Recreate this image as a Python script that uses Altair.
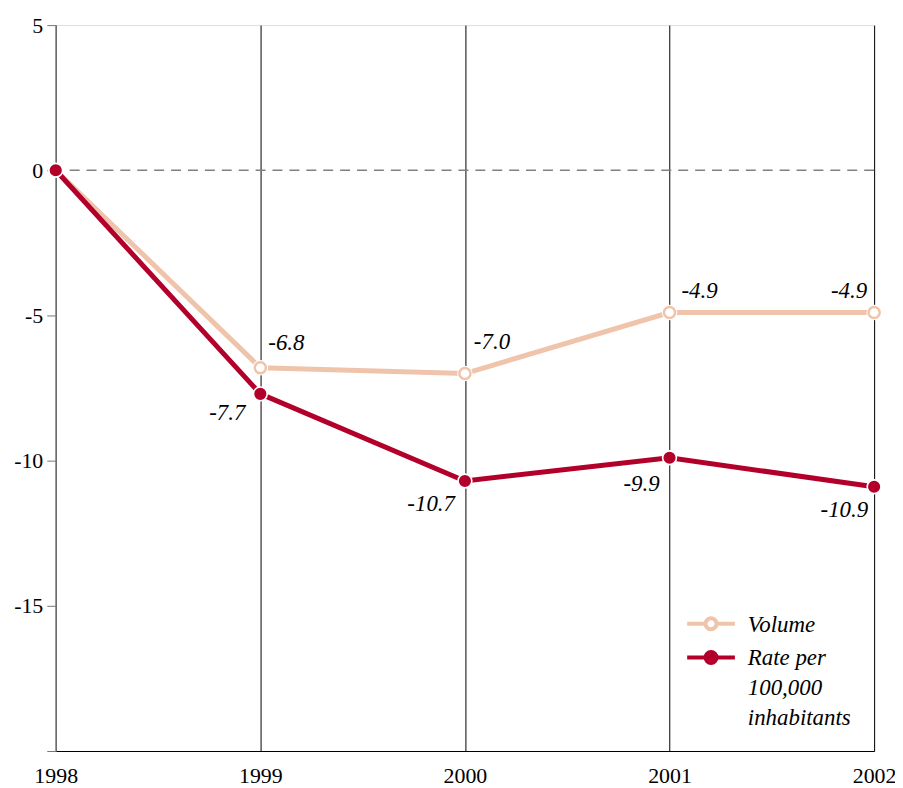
import altair as alt
import pandas as pd

years = [1998, 1999, 2000, 2001, 2002]
volume = [0.0, -6.8, -7.0, -4.9, -4.9]
rate = [0.0, -7.7, -10.7, -9.9, -10.9]
series_names = ["Volume", "Rate per 100,000 inhabitants"]
rate_label_lines = ["Rate per", "100,000", "inhabitants"]
y_ticks = [5, 0, -5, -10, -15, -20]
zero_line = [0]

PEACH = "#efc4ab"
RED = "#b3002b"
FONT = "Liberation Serif"
LABEL_DY = 8  # shifts guide labels so a baseline-anchored label is centred

# per-label text placement (style only): (align, dx, dy)
VOL_LABEL_STYLE = {1999: ("left", 8, -25), 2000: ("left", 9, -32),
                   2001: ("left", 12, -22), 2002: ("right", -7, -22)}
RATE_LABEL_STYLE = {1999: ("right", -15, 19), 2000: ("right", -10, 23),
                    2001: ("right", -10, 26), 2002: ("right", -6, 23)}
POINT_SIZE = {series_names[0]: 125, series_names[1]: 95}

df = pd.DataFrame({
    "year": years * 2,
    "value": volume + rate,
    "series": [series_names[0]] * len(years) + [series_names[1]] * len(years),
})
df["label"] = df["value"].map(lambda v: f"{v:.1f}")

x_enc = alt.X(
    "year:Q",
    scale=alt.Scale(domain=[years[0], years[-1]], nice=False, zero=False),
    axis=alt.Axis(
        values=years, format="d", title=None, grid=True, gridColor="black",
        gridWidth=1, gridOpacity=1, ticks=False, domainColor="black", domainWidth=1.2,
        labelFont=FONT, labelFontSize=22, labelColor="black",
        labelPadding=15 - LABEL_DY, labelFlush=False,
    ),
)
y_enc = alt.Y(
    "value:Q",
    scale=alt.Scale(domain=[-20, 5], nice=False, zero=False),
    axis=alt.Axis(
        values=y_ticks, title=None, grid=False,
        labelExpr="datum.value == -20 ? '' : toString(datum.value)",
        domainColor="#777777", domainWidth=1.2, tickColor="#777777", tickSize=9,
        labelFont=FONT, labelFontSize=22, labelColor="black", labelPadding=4,
        labelOffset=-LABEL_DY,
    ),
)

# legend symbol: a line with a circle in the middle (extends beyond the unit box)
sym_path = ("M-2,0L-0.58,0M0.58,0L2,0"
            "M0.46,0A0.46,0.46,0,1,1,-0.46,0A0.46,0.46,0,1,1,0.46,0Z")
label_expr = ("datum.label == '" + series_names[1] + "' ? ['" +
              "','".join(rate_label_lines) + "'] : datum.label")
leg = alt.Legend(
    title=None, orient="none", legendX=645, legendY=588,
    symbolType=sym_path, symbolSize=576, symbolStrokeWidth=4,
    labelFont=FONT, labelFontStyle="italic", labelFontSize=23, labelColor="black",
    labelOffset=23, labelLimit=400, rowPadding=6, labelExpr=label_expr,
    labelBaseline="alphabetic", symbolOffset=0, padding=0,
)

stroke_enc = alt.Stroke(
    "series:N", scale=alt.Scale(domain=series_names, range=[PEACH, RED]), legend=leg
)
fill_enc = alt.Fill(
    "series:N", scale=alt.Scale(domain=series_names, range=["white", RED]), legend=leg
)

base = alt.Chart(df).encode(x=x_enc, y=y_enc)

zero = alt.Chart(pd.DataFrame({"z": zero_line})).mark_rule(
    color="#808080", strokeDash=[10, 7], strokeWidth=1.5
).encode(y=alt.Y("z:Q"))

lines = base.mark_line(strokeWidth=5).encode(stroke=stroke_enc)

pts_filter = (alt.datum.year > years[0]) | (alt.datum.series == series_names[1])

halo = base.transform_filter(pts_filter).mark_point(
    filled=True, color="white", size=240, opacity=1
)
point_layers = [
    base.transform_filter(pts_filter & (alt.datum.series == name))
    .mark_point(filled=True, strokeWidth=2.5, opacity=1, size=POINT_SIZE[name])
    .encode(fill=fill_enc, stroke=stroke_enc)
    for name in series_names
]

text_style = dict(font=FONT, fontStyle="italic", fontSize=23, color="black",
                  baseline="middle")
label_layers = []
for name, styles in ((series_names[0], VOL_LABEL_STYLE), (series_names[1], RATE_LABEL_STYLE)):
    for yr, (al, dx, dy) in styles.items():
        label_layers.append(
            base.transform_filter((alt.datum.series == name) & (alt.datum.year == yr))
            .mark_text(align=al, dx=dx, dy=dy, **text_style)
            .encode(text="label:N")
        )

chart = alt.layer(zero, lines, halo, *point_layers, *label_layers).properties(
    width=823, height=730,
    autosize=alt.AutoSizeParams(type="none"),
    padding={"left": 48, "top": 15, "right": 21, "bottom": 34},
).configure_view(stroke=None).configure(
    background="white",
    style={"guide-label": {"lineHeight": 30, "dy": LABEL_DY}},
)

chart.save("out.html", embed_options={"renderer": "svg", "actions": False})
